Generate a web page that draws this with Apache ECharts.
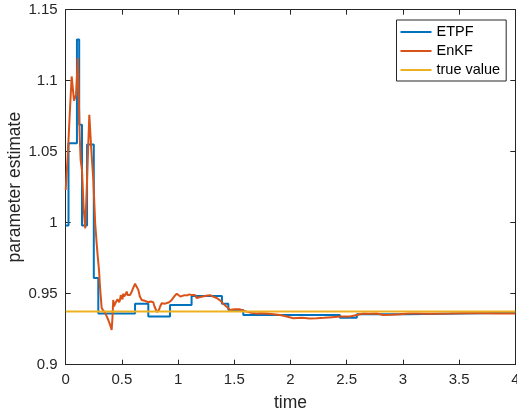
<!DOCTYPE html>
<html><head><meta charset="utf-8">
<script src="https://cdn.jsdelivr.net/npm/echarts@6/dist/echarts.min.js"></script>
<style>html,body{margin:0;padding:0;background:#fff}#c{width:517px;height:415px}</style>
</head><body><div id="c"></div>
<script>
const xTicks = [0, 0.5, 1, 1.5, 2, 2.5, 3, 3.5, 4];
const yTicks = [0.9, 0.95, 1, 1.05, 1.1, 1.15];
const trueValue = 0.9375;
// ETPF: piecewise-constant (value held from each time until the next)
const etpfT = [0, 0.025, 0.10, 0.12, 0.145, 0.19, 0.25, 0.29, 0.617, 0.735, 0.928, 1.12, 1.39, 1.447, 1.58, 2.44, 2.59, 3.03, 4.0];
const etpfV = [0.998, 1.056, 1.129, 1.069, 0.998, 1.055, 0.961, 0.936, 0.943, 0.934, 0.942, 0.9484, 0.943, 0.9386, 0.935, 0.933, 0.9355, 0.9365, 0.9365];
// EnKF
const enkfT = [0, 0.02, 0.035, 0.053, 0.074, 0.092, 0.108, 0.125, 0.133, 0.145, 0.16, 0.174, 0.19, 0.21, 0.228, 0.246, 0.262, 0.276, 0.283, 0.29, 0.297, 0.305, 0.32, 0.335, 0.35, 0.365, 0.379, 0.395, 0.409, 0.416, 0.423, 0.43, 0.438, 0.446, 0.454, 0.461, 0.468, 0.476, 0.483, 0.49, 0.497, 0.505, 0.512, 0.52, 0.528, 0.535, 0.543, 0.55, 0.558, 0.565, 0.572, 0.585, 0.595, 0.606, 0.617, 0.63, 0.646, 0.66, 0.676, 0.69, 0.705, 0.72, 0.735, 0.757, 0.779, 0.79, 0.80, 0.812, 0.824, 0.832, 0.84, 0.854, 0.87, 0.885, 0.899, 0.92, 0.943, 0.965, 0.988, 1.005, 1.02, 1.04, 1.061, 1.08, 1.10, 1.12, 1.135, 1.15, 1.165, 1.19, 1.22, 1.25, 1.284, 1.31, 1.343, 1.37, 1.402, 1.43, 1.462, 1.5, 1.551, 1.58, 1.61, 1.65, 1.699, 1.74, 1.788, 1.85, 1.907, 1.966, 2.025, 2.1, 2.17, 2.233, 2.3, 2.37, 2.44, 2.53, 2.59, 2.648, 2.7, 2.767, 2.826, 2.9, 2.974, 3.05, 3.123, 3.25, 3.419, 3.55, 3.7, 3.85, 4.0];
const enkfV = [1.023, 1.05, 1.075, 1.103, 1.086, 1.09, 1.116, 1.06, 1.044, 1.037, 1.01, 0.996, 1.03, 1.076, 1.051, 1.03, 1.0, 0.985, 0.978, 0.972, 0.966, 0.955, 0.94, 0.938, 0.9365, 0.934, 0.9315, 0.928, 0.9245, 0.933, 0.9456, 0.941, 0.940, 0.944, 0.9433, 0.946, 0.947, 0.944, 0.9456, 0.949, 0.948, 0.946, 0.950, 0.948, 0.947, 0.950, 0.9515, 0.949, 0.948, 0.950, 0.949, 0.951, 0.953, 0.955, 0.957, 0.955, 0.9527, 0.948, 0.9456, 0.946, 0.945, 0.944, 0.944, 0.9445, 0.944, 0.941, 0.940, 0.937, 0.936, 0.939, 0.941, 0.9433, 0.9425, 0.943, 0.942, 0.944, 0.9456, 0.948, 0.950, 0.949, 0.948, 0.9485, 0.949, 0.9488, 0.9495, 0.949, 0.9497, 0.949, 0.947, 0.9475, 0.948, 0.9485, 0.949, 0.948, 0.947, 0.9455, 0.943, 0.941, 0.9386, 0.939, 0.939, 0.938, 0.9374, 0.9365, 0.936, 0.9362, 0.936, 0.9355, 0.935, 0.934, 0.9327, 0.933, 0.9325, 0.9327, 0.933, 0.9335, 0.934, 0.934, 0.935, 0.936, 0.9358, 0.936, 0.935, 0.9352, 0.9355, 0.936, 0.936, 0.9358, 0.936, 0.9362, 0.9362, 0.936, 0.936];

const zip = (a, b) => a.map((t, i) => [t, b[i]]);
const axisColor = '#262626';
const font = 'Liberation Sans, Arial, Helvetica, sans-serif';
const chart = echarts.init(document.getElementById('c'), null, {renderer: 'canvas'});
const xCommon = {type: 'value', min: xTicks[0], max: xTicks[xTicks.length - 1], interval: 0.5,
  splitLine: {show: false}, axisLine: {show: true, onZero: false, lineStyle: {color: axisColor, width: 1}},
  axisTick: {show: true, inside: true, length: 5, lineStyle: {color: axisColor}}};
const yCommon = {type: 'value', min: yTicks[0], max: yTicks[yTicks.length - 1], interval: 0.05,
  splitLine: {show: false}, axisLine: {show: true, onZero: false, lineStyle: {color: axisColor, width: 1}},
  axisTick: {show: true, inside: true, length: 5, lineStyle: {color: axisColor}}};
chart.setOption({
  animation: false,
  backgroundColor: '#fff',
  grid: {left: 65.7, right: 1.7, top: 9.7, bottom: 50.3, containLabel: false, outerBoundsMode: 'none'},
  legend: {
    orient: 'vertical', left: 396.5, top: 20, icon: 'rect', itemWidth: 31, itemHeight: 2, itemGap: 3,
    padding: [4, 6, 3, 4], borderColor: '#262626', borderWidth: 1, backgroundColor: '#fff',
    textStyle: {fontFamily: font, fontSize: 14.5, color: '#000', lineHeight: 16},
    data: ['ETPF', 'EnKF', 'true value']
  },
  xAxis: [
    Object.assign({}, xCommon, {position: 'bottom', name: 'time', nameLocation: 'middle', nameGap: 29,
      nameTextStyle: {fontFamily: font, fontSize: 17.5, color: axisColor},
      axisLabel: {show: true, margin: 8, fontFamily: font, fontSize: 15, color: axisColor}}),
    Object.assign({}, xCommon, {position: 'top', axisLabel: {show: false}})
  ],
  yAxis: [
    Object.assign({}, yCommon, {position: 'left', name: 'parameter estimate', nameLocation: 'middle', nameGap: 42,
      nameMoveOverlap: false,
      nameTextStyle: {fontFamily: font, fontSize: 17.5, color: axisColor},
      axisLabel: {show: true, margin: 8, fontFamily: font, fontSize: 15, color: axisColor}}),
    Object.assign({}, yCommon, {position: 'right', axisLabel: {show: false}})
  ],
  series: [
    {name: 'ETPF', type: 'line', step: 'end', data: zip(etpfT, etpfV), showSymbol: false,
      lineStyle: {color: '#0072BD', width: 2}, itemStyle: {color: '#0072BD'}},
    {name: 'EnKF', type: 'line', data: zip(enkfT, enkfV), showSymbol: false,
      lineStyle: {color: '#D95319', width: 2}, itemStyle: {color: '#D95319'}},
    {name: 'true value', type: 'line', data: [[xTicks[0], trueValue], [xTicks[xTicks.length - 1], trueValue]], showSymbol: false,
      lineStyle: {color: '#EDB120', width: 2}, itemStyle: {color: '#EDB120'}}
  ]
});
</script></body></html>
